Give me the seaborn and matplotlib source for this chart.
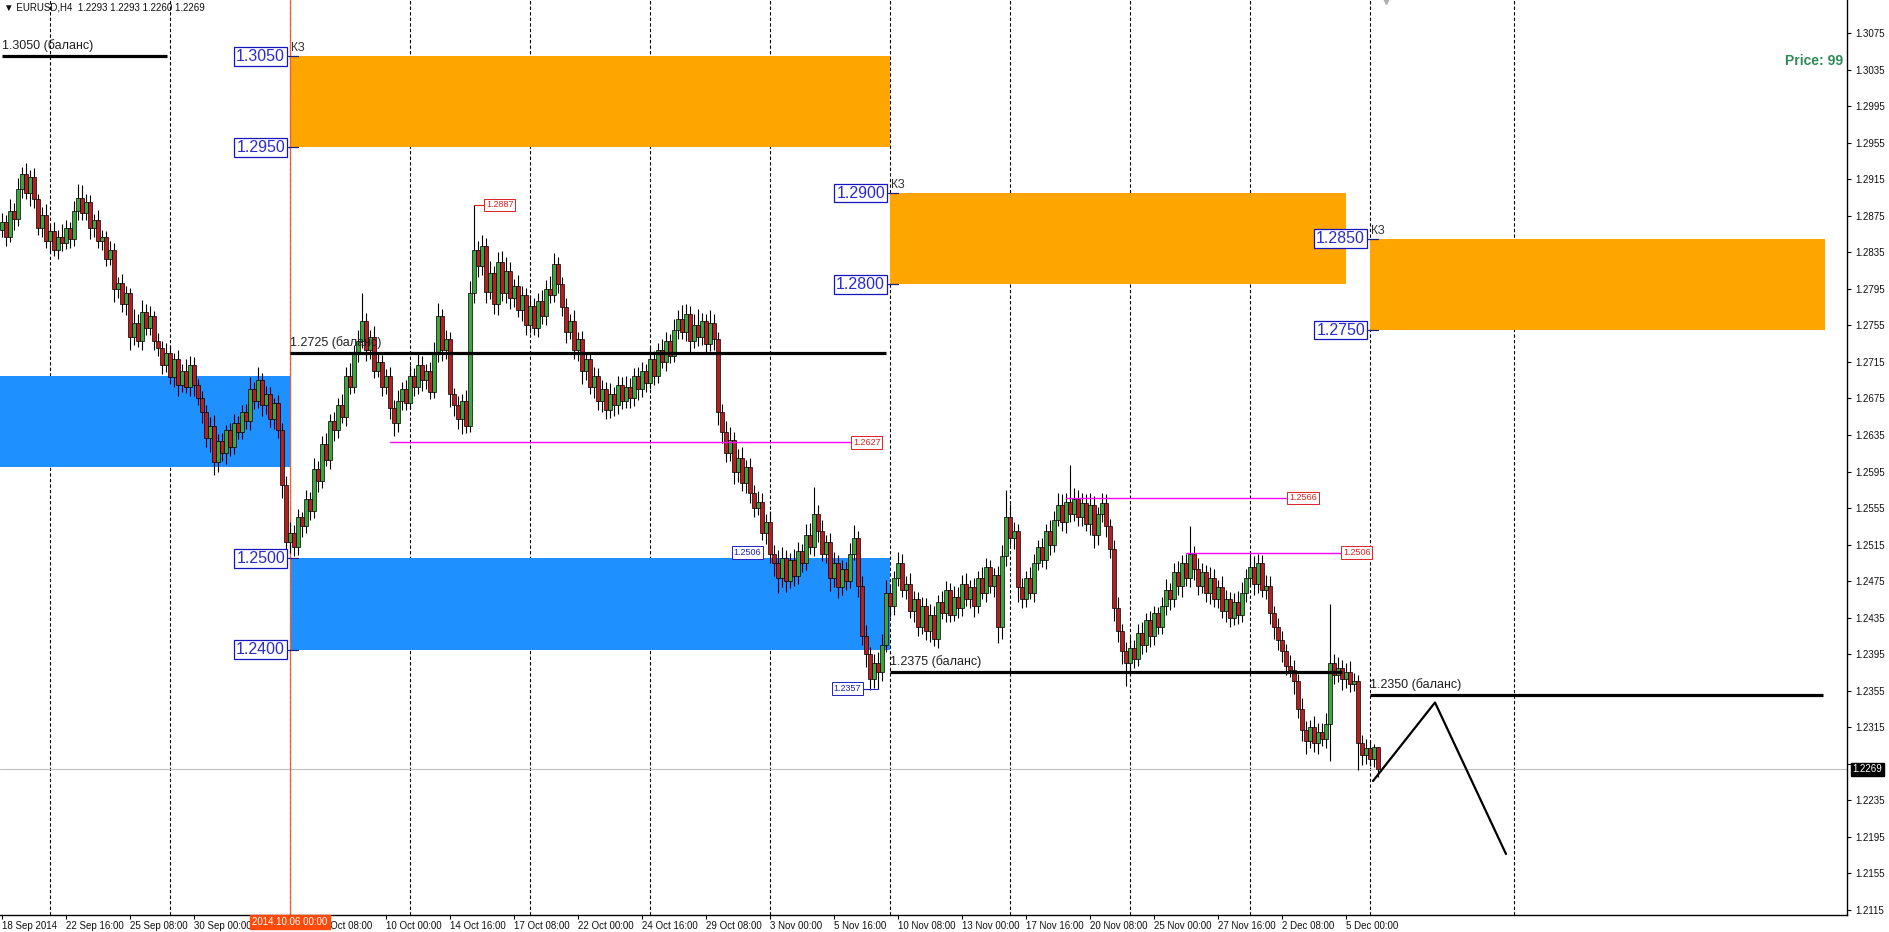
import matplotlib
matplotlib.use("Agg")
import matplotlib.pyplot as plt
import numpy as np
import pandas as pd
import seaborn as sns

# ---- data (EURUSD H4, bar index 0 = 18 Sep 2014 00:00) ----
FIRST_OPEN = 1.2860
CLOSES = [
    1.2868, 1.2852, 1.2880, 1.2872, 1.2905, 1.2921, 1.2900, 1.2918, 1.2893, 1.2862,
    1.2876, 1.2848, 1.2858, 1.2838, 1.2852, 1.2845, 1.2862, 1.2850, 1.2880, 1.2895,
    1.2878, 1.2890, 1.2862, 1.2870, 1.2848, 1.2852, 1.2828, 1.2838, 1.2795, 1.2802,
    1.2778, 1.2790, 1.2742, 1.2758, 1.2738, 1.2770, 1.2752, 1.2765, 1.2738, 1.2730,
    1.2712, 1.2725, 1.2698, 1.2718, 1.2690, 1.2705, 1.2688, 1.2712, 1.2690, 1.2676,
    1.2660, 1.2632, 1.2645, 1.2605, 1.2628, 1.2615, 1.2640, 1.2622, 1.2648, 1.2638,
    1.2660, 1.2650, 1.2685, 1.2672, 1.2695, 1.2668, 1.2680, 1.2652, 1.2670, 1.2640,
    1.2580, 1.2518, 1.2528, 1.2512, 1.2545, 1.2535, 1.2565, 1.2552, 1.2598, 1.2585,
    1.2625, 1.2608, 1.2650, 1.2640, 1.2668, 1.2655, 1.2700, 1.2688, 1.2725, 1.2738,
    1.2760, 1.2728, 1.2742, 1.2705, 1.2715, 1.2688, 1.2700, 1.2665, 1.2648, 1.2672,
    1.2685, 1.2670, 1.2700, 1.2688, 1.2712, 1.2695, 1.2705, 1.2682, 1.2725, 1.2765,
    1.2728, 1.2740, 1.2680, 1.2668, 1.2652, 1.2672, 1.2645, 1.2790, 1.2838, 1.2820,
    1.2842, 1.2792, 1.2812, 1.2778, 1.2825, 1.2790, 1.2815, 1.2785, 1.2798, 1.2772,
    1.2788, 1.2755, 1.2776, 1.2752, 1.2782, 1.2765, 1.2795, 1.2788, 1.2822, 1.2800,
    1.2775, 1.2748, 1.2760, 1.2728, 1.2740, 1.2705, 1.2718, 1.2688, 1.2700, 1.2672,
    1.2685, 1.2662, 1.2680, 1.2668, 1.2690, 1.2672, 1.2688, 1.2675, 1.2700, 1.2685,
    1.2705, 1.2692, 1.2718, 1.2700, 1.2728, 1.2715, 1.2738, 1.2722, 1.2750, 1.2762,
    1.2748, 1.2768, 1.2738, 1.2755, 1.2742, 1.2760, 1.2735, 1.2758, 1.2740, 1.2660,
    1.2638, 1.2615, 1.2630, 1.2595, 1.2610, 1.2582, 1.2600, 1.2572, 1.2555, 1.2562,
    1.2528, 1.2540, 1.2505, 1.2495, 1.2478, 1.2500, 1.2475, 1.2498, 1.2480, 1.2508,
    1.2495, 1.2525, 1.2512, 1.2548, 1.2530, 1.2505, 1.2518, 1.2478, 1.2495, 1.2468,
    1.2488, 1.2475, 1.2505, 1.2522, 1.2470, 1.2415, 1.2395, 1.2368, 1.2385, 1.2375,
    1.2405, 1.2462, 1.2448, 1.2478, 1.2495, 1.2465, 1.2472, 1.2442, 1.2455, 1.2425,
    1.2448, 1.2420, 1.2438, 1.2412, 1.2452, 1.2440, 1.2465, 1.2438, 1.2458, 1.2445,
    1.2472, 1.2455, 1.2468, 1.2448, 1.2478, 1.2462, 1.2490, 1.2470, 1.2482, 1.2425,
    1.2502, 1.2545, 1.2522, 1.2530, 1.2468, 1.2455, 1.2478, 1.2462, 1.2495, 1.2512,
    1.2498, 1.2530, 1.2515, 1.2542, 1.2558, 1.2540, 1.2562, 1.2548, 1.2565, 1.2545,
    1.2560, 1.2538, 1.2558, 1.2525, 1.2548, 1.2560, 1.2535, 1.2510, 1.2445, 1.2420,
    1.2398, 1.2385, 1.2402, 1.2390, 1.2418, 1.2405, 1.2432, 1.2415, 1.2440, 1.2425,
    1.2448, 1.2465, 1.2455, 1.2485, 1.2470, 1.2495, 1.2478, 1.2505, 1.2488, 1.2470,
    1.2485, 1.2462, 1.2478, 1.2455, 1.2468, 1.2442, 1.2455, 1.2435, 1.2452, 1.2438,
    1.2462, 1.2478, 1.2490, 1.2472, 1.2495, 1.2465, 1.2470, 1.2440, 1.2425, 1.2410,
    1.2398, 1.2382, 1.2378, 1.2365, 1.2335, 1.2312, 1.2300, 1.2315, 1.2298, 1.2310,
    1.2302, 1.2318, 1.2385, 1.2372, 1.2380, 1.2368, 1.2375, 1.2362, 1.2366, 1.2298,
    1.2285, 1.2292, 1.2280, 1.2293, 1.2269,
]
# wick lengths in pips above / below the body
WICK_UP = [
    10, 8, 14, 9, 12, 8, 12, 7, 10, 6,
    9, 12, 7, 10, 8, 14, 9, 6, 11, 15,
    14, 9, 8, 7, 12, 8, 6, 10, 7, 6,
    9, 8, 6, 15, 9, 13, 8, 11, 6, 9,
    8, 11, 9, 7, 10, 8, 13, 9, 8, 6,
    7, 8, 10, 12, 8, 9, 6, 8, 10, 8,
    8, 9, 13, 8, 15, 8, 9, 8, 6, 9,
    8, 10, 12, 8, 9, 6, 10, 8, 12, 8,
    9, 12, 8, 10, 8, 12, 9, 14, 9, 12,
    30, 9, 8, 12, 9, 8, 7, 10, 8, 12,
    8, 10, 12, 8, 14, 9, 8, 10, 12, 15,
    8, 10, 8, 7, 10, 8, 12, 14, 49, 10,
    12, 9, 14, 8, 10, 12, 15, 9, 8, 12,
    10, 8, 12, 9, 8, 12, 10, 14, 12, 8,
    8, 10, 7, 12, 8, 9, 8, 7, 10, 8,
    10, 8, 12, 8, 10, 8, 12, 9, 8, 10,
    10, 8, 12, 9, 8, 12, 10, 8, 12, 10,
    15, 10, 8, 12, 18, 9, 8, 14, 9, 8,
    9, 12, 14, 8, 10, 12, 8, 10, 8, 12,
    10, 8, 12, 10, 14, 12, 9, 8, 12, 10,
    8, 12, 14, 30, 10, 12, 8, 10, 12, 8,
    10, 8, 12, 14, 8, 10, 12, 8, 10, 12,
    12, 14, 10, 8, 12, 10, 8, 12, 9, 8,
    10, 8, 12, 10, 8, 12, 10, 8, 12, 10,
    10, 12, 8, 10, 8, 12, 10, 8, 7, 10,
    12, 30, 14, 10, 8, 10, 8, 12, 10, 8,
    10, 8, 12, 10, 14, 12, 10, 40, 12, 10,
    12, 10, 14, 10, 8, 12, 10, 8, 10, 12,
    8, 10, 12, 8, 10, 12, 8, 10, 8, 7,
    10, 12, 8, 10, 12, 8, 10, 30, 8, 12,
    10, 8, 12, 10, 8, 12, 10, 8, 10, 12,
    12, 10, 18, 12, 10, 8, 12, 10, 8, 10,
    10, 8, 12, 10, 8, 12, 10, 8, 12, 10,
    10, 12, 65, 10, 12, 8, 10, 12, 8, 6,
    8, 10, 8, 4, 0,
]
WICK_DN = [
    8, 10, 6, 12, 8, 10, 6, 14, 9, 8,
    10, 8, 12, 7, 10, 8, 6, 10, 8, 9,
    8, 7, 12, 10, 8, 10, 8, 7, 14, 10,
    8, 12, 14, 8, 7, 10, 8, 7, 10, 8,
    10, 8, 7, 10, 12, 8, 7, 10, 12, 8,
    12, 10, 16, 14, 10, 8, 12, 10, 8, 7,
    7, 8, 10, 8, 7, 12, 10, 8, 10, 8,
    14, 20, 12, 10, 8, 12, 7, 10, 8, 12,
    8, 7, 10, 12, 8, 7, 10, 8, 7, 10,
    8, 12, 10, 8, 7, 10, 8, 12, 14, 10,
    10, 8, 7, 10, 8, 12, 10, 8, 7, 10,
    12, 10, 14, 12, 10, 16, 8, 7, 10, 12,
    10, 12, 8, 10, 12, 8, 10, 12, 10, 8,
    12, 10, 8, 7, 10, 8, 10, 8, 7, 10,
    10, 12, 8, 10, 12, 14, 10, 8, 12, 10,
    12, 10, 8, 12, 10, 8, 7, 10, 8, 12,
    8, 10, 7, 10, 8, 7, 10, 8, 7, 10,
    8, 10, 12, 8, 10, 8, 10, 8, 12, 14,
    12, 10, 8, 14, 12, 8, 10, 12, 10, 8,
    8, 12, 10, 14, 16, 10, 12, 8, 10, 8,
    10, 8, 7, 10, 12, 8, 10, 14, 10, 12,
    8, 10, 8, 7, 12, 10, 14, 12, 10, 18,
    10, 8, 12, 10, 8, 7, 10, 8, 12, 10,
    8, 10, 12, 8, 10, 7, 10, 8, 7, 10,
    8, 7, 10, 12, 8, 7, 10, 8, 12, 18,
    14, 10, 8, 12, 16, 10, 8, 7, 10, 8,
    8, 10, 12, 8, 7, 10, 12, 8, 7, 10,
    10, 8, 12, 14, 10, 8, 12, 10, 14, 12,
    14, 25, 12, 10, 8, 10, 8, 12, 10, 8,
    8, 10, 12, 8, 10, 12, 8, 10, 12, 10,
    8, 10, 12, 8, 10, 8, 12, 10, 8, 10,
    8, 10, 8, 12, 10, 8, 10, 12, 14, 10,
    12, 10, 8, 14, 10, 12, 14, 8, 10, 12,
    8, 10, 40, 10, 8, 12, 10, 8, 7, 30,
    12, 10, 8, 9, 9,
]

TICK_BARS = list(range(0, 337, 16))
TICK_LABELS = [
    "18 Sep 2014", "22 Sep 16:00", "25 Sep 08:00", "30 Sep 00:00", "",
    "7 Oct 08:00", "10 Oct 00:00", "14 Oct 16:00", "17 Oct 08:00", "22 Oct 00:00",
    "24 Oct 16:00", "29 Oct 08:00", "3 Nov 00:00", "5 Nov 16:00", "10 Nov 08:00",
    "13 Nov 00:00", "17 Nov 16:00", "20 Nov 08:00", "25 Nov 00:00", "27 Nov 16:00",
    "2 Dec 08:00", "5 Dec 00:00",
]
GRID_BARS = list(range(12, 343, 30)) + [378]
PRICE_TICKS = [round(1.2115 + 0.004 * k, 4) for k in range(25)]

# zones: (bar_from, bar_to, low, high)
SUPPLY_ZONES = [(72, 222, 1.2950, 1.3050), (222, 336, 1.2800, 1.2900), (342, 455.75, 1.2750, 1.2850)]
DEMAND_ZONES = [(-0.5, 72, 1.2600, 1.2700), (72, 222, 1.2400, 1.2500)]
BALANCE_LINES = [(0, 41.25, 1.3050), (72, 221, 1.2725), (222, 335, 1.2375), (342, 455.25, 1.2350)]
MAGENTA_LINES = [(97, 212, 1.2627), (266, 321, 1.2566), (296, 334.5, 1.2506)]
ZIGZAG_BARS = [342.75, 358.25, 376]
ZIGZAG_PRICES = [1.2256, 1.2342, 1.2176]
LAST_PRICE = 1.2269
MARK_BAR = 72
SHIFT_BAR = 346

W, H = 1889, 932
FONT = ["Liberation Sans", "DejaVu Sans"]


def main() -> None:
    sns.set_theme(style="white")
    plt.rcParams["font.family"] = FONT

    df = pd.DataFrame({"close": CLOSES, "up": WICK_UP, "dn": WICK_DN})
    df["bar"] = np.arange(len(df))
    df["open"] = df["close"].shift(1).fillna(FIRST_OPEN)
    df["top"] = df[["open", "close"]].max(axis=1)
    df["bot"] = df[["open", "close"]].min(axis=1)
    df["high"] = df["top"] + df["up"] / 10000
    df["low"] = df["bot"] - df["dn"] / 10000
    df["bull"] = df["close"] >= df["open"]

    fig = plt.figure(figsize=(W / 100, H / 100), dpi=100)
    ax = fig.add_axes([0, 17 / H, 1847 / W, 915 / H])
    ax.set_xlim(-0.5, 461.25)
    ax.set_ylim(1.21092, 1.31115)

    # grid
    for b in GRID_BARS:
        ax.axvline(b, color="black", lw=0.8, ls=(0, (3, 2)), zorder=1)

    # zones
    for x0, x1, lo, hi in SUPPLY_ZONES:
        ax.add_patch(plt.Rectangle((x0, lo), x1 - x0, hi - lo, color="#ffa500", lw=0, zorder=2))
    for x0, x1, lo, hi in DEMAND_ZONES:
        ax.add_patch(plt.Rectangle((x0, lo), x1 - x0, hi - lo, color="#1e90ff", lw=0, zorder=2))

    ax.axhline(LAST_PRICE, color="#c0c0c0", lw=0.8, zorder=2.5)
    ax.axvline(MARK_BAR, color="#f0602a", lw=0.9, zorder=2.5)

    # candles
    ax.vlines(df["bar"], df["low"], df["high"], color="black", lw=0.8, zorder=3)
    height = (df["top"] - df["bot"]).clip(lower=0.00004)
    ax.bar(df["bar"], height, bottom=df["bot"], width=0.8,
           color=np.where(df["bull"], "#3fa33f", "#b3201f"),
           edgecolor="black", linewidth=0.5, zorder=4)

    # balance lines
    for x0, x1, p in BALANCE_LINES:
        ax.plot([x0, x1], [p, p], color="black", lw=2.3, solid_capstyle="butt", zorder=5)
        ax.annotate(f"{p:.4f} (баланс)", xy=(x0, p), xytext=(0, 4), textcoords="offset pixels",
                    ha="left", va="bottom", fontsize=9, color="#202020", zorder=6)

    # magenta lines with price tags
    for x0, x1, p in MAGENTA_LINES:
        ax.plot([x0, x1], [p, p], color="#ff00ff", lw=1.0, zorder=5)
        ax.annotate(f"{p:.4f}", xy=(x1, p), xytext=(3, 0), textcoords="offset pixels",
                    ha="left", va="center", fontsize=6.5, color="#e02020", zorder=6,
                    bbox=dict(boxstyle="square,pad=0.2", fc="white", ec="#e02020", lw=0.7))

    # zone price labels
    for x0, x1, lo, hi in SUPPLY_ZONES + DEMAND_ZONES[1:]:
        for p in (hi, lo):
            ax.plot([x0 - 0.6, x0 + 2], [p, p], color="#202080", lw=0.9, zorder=5)
            ax.annotate(f"{p:.4f}", xy=(x0, p), xytext=(-5, 0), textcoords="offset pixels",
                        ha="right", va="center", fontsize=11.5, color="#2a2ad0", zorder=7,
                        bbox=dict(boxstyle="square,pad=0.12", fc="white", ec="#1515c0", lw=0.9))
    for x0, x1, lo, hi in SUPPLY_ZONES:
        ax.annotate("КЗ", xy=(x0, hi), xytext=(1, 2), textcoords="offset pixels",
                    ha="left", va="bottom", fontsize=8.5, color="#303030", zorder=7)

    # swing markers
    ax.plot([118, 120.5], [1.2887, 1.2887], color="#e02020", lw=0.8, zorder=5)
    ax.annotate("1.2887", xy=(120.5, 1.2887), xytext=(2, 0), textcoords="offset pixels",
                ha="left", va="center", fontsize=6.5, color="#e02020", zorder=6,
                bbox=dict(boxstyle="square,pad=0.2", fc="white", ec="#e02020", lw=0.7))
    ax.annotate("1.2506", xy=(190.3, 1.2506), xytext=(-2, 0), textcoords="offset pixels",
                ha="right", va="center", fontsize=6.5, color="#2020c0", zorder=6,
                bbox=dict(boxstyle="square,pad=0.2", fc="white", ec="#2020c0", lw=0.7))
    ax.plot([215.3, 219], [1.2357, 1.2357], color="#2020c0", lw=0.8, zorder=5)
    ax.annotate("1.2357", xy=(215.3, 1.2357), xytext=(-2, 0), textcoords="offset pixels",
                ha="right", va="center", fontsize=6.5, color="#2020c0", zorder=6,
                bbox=dict(boxstyle="square,pad=0.2", fc="white", ec="#2020c0", lw=0.7))

    # projected path
    sns.lineplot(x=ZIGZAG_BARS, y=ZIGZAG_PRICES, sort=False, estimator=None,
                 color="black", lw=1.6, ax=ax, zorder=5)

    # chart shift marker
    ax.plot([SHIFT_BAR], [1.0], transform=ax.get_xaxis_transform(), marker="v",
            ms=6, color="#b0b0b0", clip_on=False, zorder=6)

    # axes styling
    for side in ("left", "top"):
        ax.spines[side].set_visible(False)
    for side in ("right", "bottom"):
        ax.spines[side].set_color("black")
        ax.spines[side].set_linewidth(1.0)
    ax.yaxis.tick_right()
    ax.set_yticks(PRICE_TICKS)
    ax.set_yticklabels(["" if abs(p - LAST_PRICE) < 0.001 else f"{p:.4f}" for p in PRICE_TICKS])
    ax.set_xticks(TICK_BARS)
    ax.set_xticklabels(TICK_LABELS)
    for lab in ax.get_xticklabels():
        lab.set_ha("left")
    ax.tick_params(axis="both", which="both", length=3, width=0.8, color="black",
                   labelsize=7, labelcolor="#101010", pad=2)
    ax.tick_params(axis="x", bottom=True, pad=1)
    ax.tick_params(axis="y", right=True, left=False, pad=3)
    ax.set_xlabel("")
    ax.set_ylabel("")

    # current price tag and marker date
    ax.text(1.003, LAST_PRICE, f"{LAST_PRICE:.4f}", transform=ax.get_yaxis_transform(),
            ha="left", va="center", fontsize=7, color="white", clip_on=False, zorder=10,
            bbox=dict(boxstyle="square,pad=0.15", fc="black", ec="black"))
    ax.text(MARK_BAR, -0.002, "2014.10.06 00:00", transform=ax.get_xaxis_transform(),
            ha="center", va="top", fontsize=7, color="white", clip_on=False, zorder=10,
            bbox=dict(boxstyle="square,pad=0.2", fc="#ff4a0a", ec="#ff4a0a"))

    # header and info
    fig.text(4 / W, 1 - 8 / H, "▼ EURUSD,H4  1.2293 1.2293 1.2260 1.2269",
             ha="left", va="center", fontsize=7, color="#101010")
    fig.text(1843 / W, 1 - 61 / H, "Price: 99", ha="right", va="center",
             fontsize=10, fontweight="bold", color="#2e8b57")

    fig.savefig("out.png", dpi=100)


if __name__ == "__main__":
    main()
